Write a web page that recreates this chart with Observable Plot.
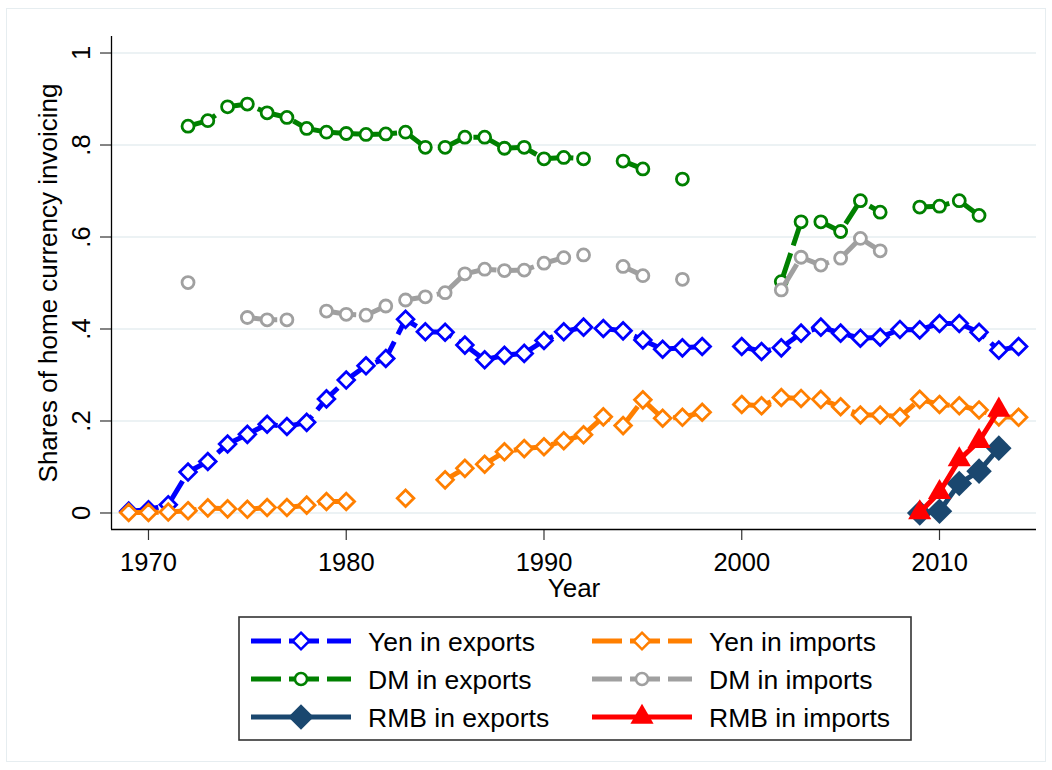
<!DOCTYPE html>
<html><head><meta charset="utf-8">
<script src="https://cdn.jsdelivr.net/npm/d3@7"></script>
<script src="https://cdn.jsdelivr.net/npm/@observablehq/plot@0.6"></script>
<style>
body{margin:0;background:#fff;font-family:"Liberation Sans",Arial,sans-serif;}
#wrap{position:relative;width:1052px;height:770px;overflow:hidden;}
#border{position:absolute;left:6px;top:8px;width:1040px;height:754px;border:1px solid #e6edf0;box-sizing:border-box;}
#chart{position:absolute;left:0;top:0;}
#legend{position:absolute;left:238px;top:616px;}
</style></head><body>
<div id="wrap"><div id="border"></div><div id="chart"></div><div id="legend"></div></div>
<script>
const years = [1969,1970,1971,1972,1973,1974,1975,1976,1977,1978,1979,1980,1981,1982,1983,1984,1985,1986,1987,1988,1989,1990,1991,1992,1993,1994,1995,1996,1997,1998,1999,2000,2001,2002,2003,2004,2005,2006,2007,2008,2009,2010,2011,2012,2013,2014];

const yenExports = [0.004,0.007,0.018,0.089,0.112,0.150,0.171,0.193,0.188,0.197,0.248,0.289,0.320,0.336,0.421,0.394,0.393,0.365,0.333,0.343,0.347,0.375,0.394,0.404,0.401,0.396,0.376,0.356,0.359,0.362,null,0.362,0.351,0.359,0.391,0.404,0.391,0.380,0.382,0.399,0.398,0.412,0.412,0.393,0.354,0.362];
const yenImports = [0.001,0.001,0.002,0.005,0.011,0.009,0.008,0.012,0.012,0.017,0.025,0.025,null,null,0.032,null,0.072,0.097,0.106,0.133,0.140,0.144,0.157,0.170,0.209,0.190,0.246,0.206,0.208,0.219,null,0.236,0.233,0.251,0.249,0.247,0.231,0.213,0.213,0.209,0.247,0.236,0.233,0.224,0.209,0.208];
const dmExports = [null,null,null,0.841,0.853,0.883,0.889,0.870,0.860,0.836,0.828,0.825,0.823,0.824,0.828,0.795,0.795,0.817,0.817,0.793,0.795,0.770,0.773,0.770,null,0.765,0.748,null,0.726,null,null,null,null,0.503,0.633,0.633,0.612,0.679,0.654,null,0.665,0.667,0.679,0.647,null,null];
const dmImports = [null,null,null,0.501,null,null,0.425,0.420,0.420,null,0.439,0.432,0.430,0.450,0.463,0.470,0.479,0.520,0.530,0.527,0.528,0.543,0.555,0.561,null,0.536,0.516,null,0.508,null,null,null,null,0.485,0.556,0.539,0.554,0.597,0.570,null,null,null,null,null,null,null];
const rmbYears = [2009,2010,2011,2012,2013];
const rmbExports = [0.000,0.004,0.064,0.091,0.141];
const rmbImports = [0.001,0.045,0.116,0.156,0.224];

const xTicks = [1970,1980,1990,2000,2010];
const yTicks = [0,0.2,0.4,0.6,0.8,1];
const yTickLabels = ["0",".2",".4",".6",".8","1"];
const xLabel = "Year";
const yLabel = "Shares of home currency invoicing";

const series = [
  {name:"Yen in exports", color:"#0000ff", symbol:"diamond2", r:7.5, hollow:true, dash:"30,8"},
  {name:"Yen in imports", color:"#ff7f00", symbol:"diamond2", r:7.5, hollow:true, dash:"30,8"},
  {name:"DM in exports", color:"#008000", symbol:"circle", r:6, hollow:true, dash:"30,8"},
  {name:"DM in imports", color:"#a0a0a0", symbol:"circle", r:6, hollow:true, dash:"30,8"},
  {name:"RMB in exports", color:"#1a476f", symbol:"diamond2", r:11.5, hollow:false, dash:null},
  {name:"RMB in imports", color:"#ff0000", symbol:"triangle", r:8.6, hollow:false, dash:null}
];
const tables = [
  years.map((y,i)=>({year:y, value:yenExports[i]})),
  years.map((y,i)=>({year:y, value:yenImports[i]})),
  years.map((y,i)=>({year:y, value:dmExports[i]})),
  years.map((y,i)=>({year:y, value:dmImports[i]})),
  rmbYears.map((y,i)=>({year:y, value:rmbExports[i]})),
  rmbYears.map((y,i)=>({year:y, value:rmbImports[i]}))
];

const X0 = 1968.13, X1 = 2014.905, Y0 = -0.0359, Y1 = 1.0359;
const FONT = "'Liberation Sans', Arial, sans-serif";

const seriesMarks = series.flatMap((s, k) => [
  Plot.line(tables[k], {x:"year", y:"value", stroke:s.color, strokeWidth:5,
    strokeDasharray: s.dash || undefined, strokeLinecap:"butt", strokeLinejoin:"round"}),
  Plot.dot(tables[k].filter(d => d.value != null), {x:"year", y:"value", symbol:s.symbol, r:s.r,
    stroke: s.hollow ? s.color : "none", strokeWidth: s.hollow ? 2.8 : 0,
    fill: s.hollow ? "white" : s.color})
]);

const chart = Plot.plot({
  width:1052, height:605,
  marginLeft:111, marginRight:16, marginTop:36, marginBottom:76,
  x:{domain:[X0, X1]},
  y:{domain:[Y0, Y1]},
  style:{fontFamily:FONT, background:"transparent", color:"#000", overflow:"visible"},
  marks:[
    Plot.gridY(yTicks, {stroke:"#e6eef1", strokeOpacity:1, strokeWidth:1.6}),
    Plot.axisY({ticks:yTicks, tickSize:11, tickFormat:()=>"", stroke:"#333", strokeWidth:1.2, label:null}),
    Plot.axisX({ticks:xTicks, tickSize:11, tickFormat:()=>"", stroke:"#333", strokeWidth:1.2, label:null}),
    Plot.ruleX([X0], {stroke:"#000", strokeWidth:1.3}),
    Plot.ruleY([Y0], {stroke:"#000", strokeWidth:1.3}),
    Plot.text(yTicks, {y:d=>d, text:(d,i)=>yTickLabels[i], frameAnchor:"left", dx:-22, rotate:-90,
      textAnchor:"middle", lineAnchor:"bottom", fontSize:25.5, fill:"#000"}),
    Plot.text(xTicks, {x:d=>d, text:d=>String(d), frameAnchor:"bottom", dy:41,
      textAnchor:"middle", lineAnchor:"bottom", fontSize:25.5, fill:"#000"}),
    Plot.text([xLabel], {text:d=>d, frameAnchor:"bottom", dy:67, lineAnchor:"bottom", fontSize:26, fill:"#000"}),
    Plot.text([yLabel], {text:d=>d, frameAnchor:"left", dx:-55, rotate:-90, textAnchor:"middle",
      lineAnchor:"bottom", fontSize:26, fill:"#000"}),
    ...seriesMarks
  ]
});
document.getElementById("chart").appendChild(chart);

// Legend (HTML/SVG, below the plot)
const LW = 674, LH = 125;
const lg = d3.select("#legend").append("svg").attr("width", LW).attr("height", LH)
  .style("font-family", FONT);
lg.append("rect").attr("x",1).attr("y",1).attr("width",LW-2).attr("height",LH-2)
  .attr("fill","white").attr("stroke","#333").attr("stroke-width",1.6);
const cols = [13, 354], rows = [25, 63, 101];
const symMap = {diamond2:d3.symbolDiamond2, circle:d3.symbolCircle, triangle:d3.symbolTriangle};
series.forEach((s, k) => {
  const cx = cols[k % 2], cy = rows[Math.floor(k / 2)];
  const g = lg.append("g");
  g.append("line").attr("x1",cx).attr("x2",cx+100).attr("y1",cy).attr("y2",cy)
    .attr("stroke",s.color).attr("stroke-width",5)
    .attr("stroke-dasharray", s.dash || null);
  g.append("path").attr("transform",`translate(${cx+50},${cy})`)
    .attr("d", d3.symbol(symMap[s.symbol], Math.PI * s.r * s.r)())
    .attr("fill", s.hollow ? "white" : s.color)
    .attr("stroke", s.hollow ? s.color : "none").attr("stroke-width", s.hollow ? 2.5 : 0);
  g.append("text").attr("x", cx+117).attr("y", cy+9.5).attr("font-size",26.5).attr("fill","#000").text(s.name);
});
</script>
</body></html>
